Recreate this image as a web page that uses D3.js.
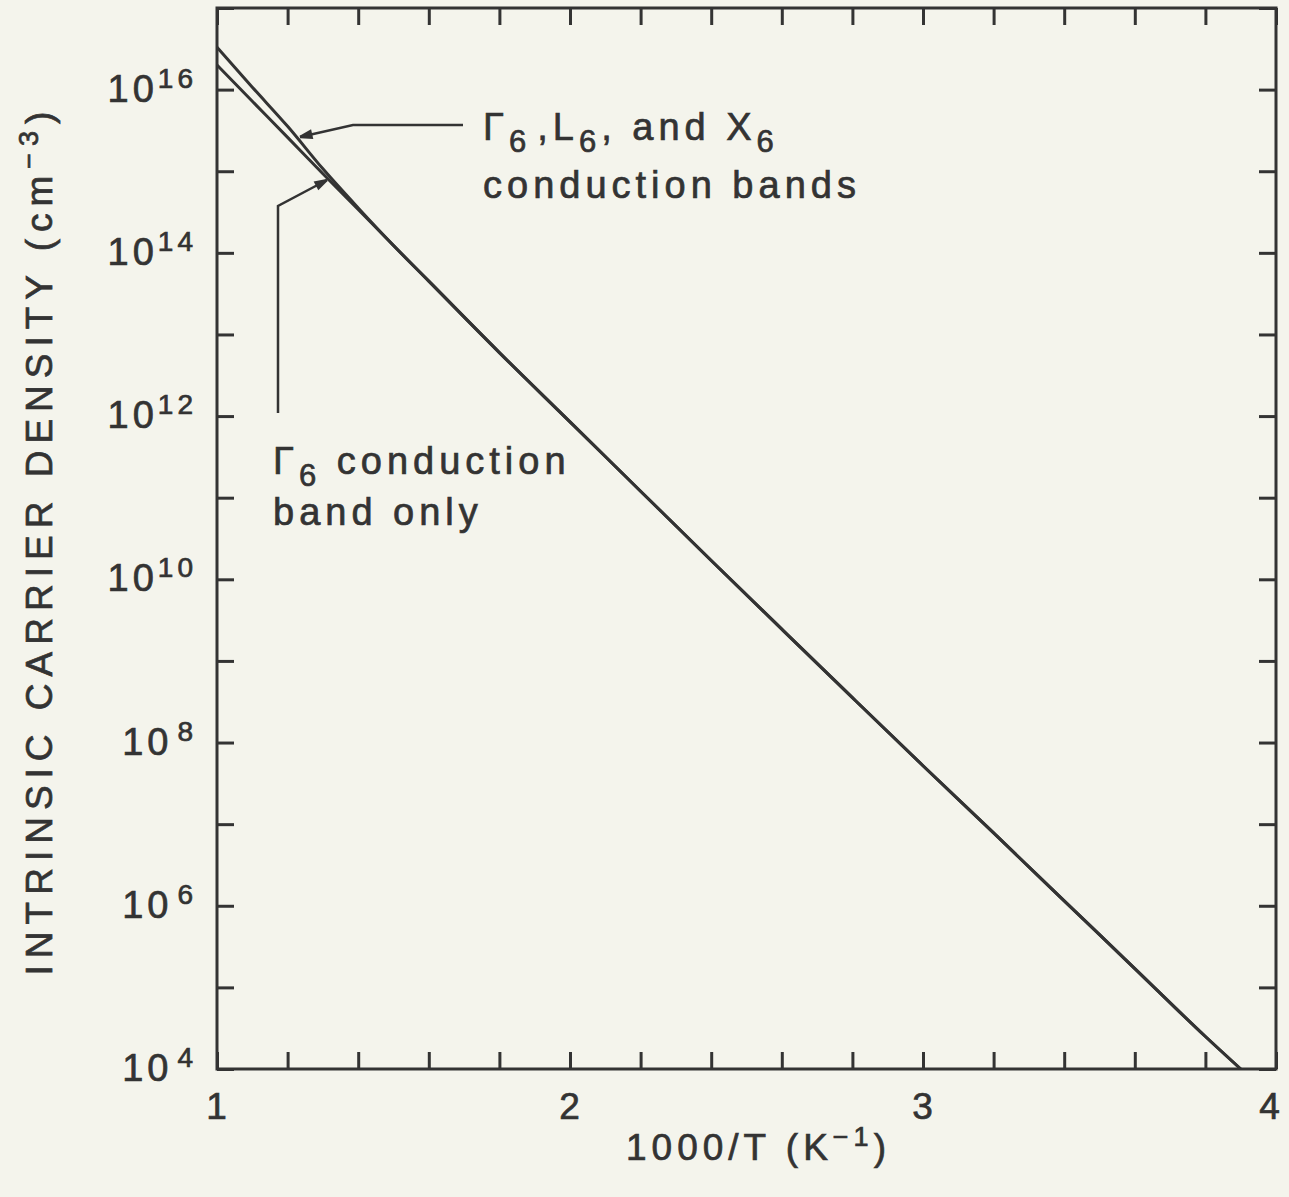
<!DOCTYPE html>
<meta charset="utf-8">
<script src="https://d3js.org/d3.v7.min.js"></script>
<style>
  body { margin: 0; background: #f4f4ec; }
  svg text { font-family: "Liberation Sans", Arial, sans-serif; fill: #333; stroke: #333; stroke-width: 0.7px; letter-spacing: 5px; }
  svg text.ylab { letter-spacing: 4px; }
  svg text.ytitle { letter-spacing: 7px; }
  svg .xaxis text { letter-spacing: 2px; }
</style>
<body>
<div id="canvas"></div>
<script>
  // 1000/T (K^-1)
  var invT = [1.0, 1.1, 1.2, 1.3, 1.4, 1.5, 1.6, 1.8, 2.0, 2.2, 2.4, 2.6, 2.8, 3.0, 3.2, 3.4, 3.6, 3.8, 3.9];
  // intrinsic carrier density (cm^-3), Gamma6 band only
  var gammaOnly = [2.0e16, 7.2e15, 2.6e15, 9.3e14, 3.4e14, 1.23e14, 4.5e13, 6.0e12, 8.5e11, 1.2e11, 1.7e10,
                   2.45e9, 3.55e8, 5.2e7, 7.8e6, 1.15e6, 1.7e5, 2.5e4, 1.0e4];
  // Gamma6, L6 and X6 bands
  var allBands = [3.3e16, 1.07e16, 3.55e15, 1.07e15, 3.55e14, 1.23e14, 4.5e13, 6.0e12, 8.5e11, 1.2e11, 1.7e10,
                  2.45e9, 3.55e8, 5.2e7, 7.8e6, 1.15e6, 1.7e5, 2.5e4, 1.0e4];
  var xTicks = [1, 1.2, 1.4, 1.6, 1.8, 2, 2.2, 2.4, 2.6, 2.8, 3, 3.2, 3.4, 3.6, 3.8, 4];
  var xLabels = [1, 2, 3, 4];
  var yTicks = [1e4, 1e5, 1e6, 1e7, 1e8, 1e9, 1e10, 1e11, 1e12, 1e13, 1e14, 1e15, 1e16, 1e17];
  var yLabelExp = [4, 6, 8, 10, 12, 14, 16];

  var width = 1289, height = 1197;
  var margin = {top: 8, right: 13, bottom: 128, left: 217};
  var w = width - margin.left - margin.right;
  var h = height - margin.top - margin.bottom;
  var ink = "#333";

  var svg = d3.select("#canvas").append("svg")
    .attr("width", width)
    .attr("height", height);

  var g = svg.append("g")
    .attr("transform", "translate(" + margin.left + "," + margin.top + ")");

  var x = d3.scaleLinear().domain([1, 4]).range([0, w]);
  var y = d3.scaleLog().domain([1e4, 1e17]).range([h, 0]);

  // ticks on all four sides, pointing inward
  function styleAxis(sel) {
    sel.select(".domain").remove();
    sel.selectAll(".tick line").attr("stroke", ink).attr("stroke-width", 3);
  }
  g.append("g").attr("class", "xaxis").attr("transform", "translate(0," + h + ")")
    .call(d3.axisBottom(x).tickValues(xTicks).tickSize(-17).tickPadding(24)
      .tickFormat(function(d) { return xLabels.indexOf(d) >= 0 ? d : ""; }))
    .call(styleAxis)
    .selectAll("text").style("font-size", "37px").attr("font-family", null).attr("fill", ink)
    .attr("dx", function(d) { return d === 4 ? -6 : 0; });
  g.append("g")
    .call(d3.axisTop(x).tickValues(xTicks).tickSize(-17).tickFormat(""))
    .call(styleAxis);
  g.append("g")
    .call(d3.axisLeft(y).tickValues(yTicks).tickSize(-17).tickFormat(""))
    .call(styleAxis);
  g.append("g").attr("transform", "translate(" + w + ",0)")
    .call(d3.axisRight(y).tickValues(yTicks).tickSize(-17).tickFormat(""))
    .call(styleAxis);

  // y tick labels 10^n
  var yl = g.selectAll(".ylab").data(yLabelExp).enter().append("text")
    .attr("class", "ylab")
    .attr("x", -20)
    .attr("y", function(d) { return y(Math.pow(10, d)) + 12; })
    .attr("text-anchor", "end")
    .style("font-size", "38px");
  yl.append("tspan").text("10");
  yl.append("tspan").attr("dy", -14).attr("dx", function(d) { return d < 10 ? 5 : 0; })
    .style("font-size", "28px").text(function(d) { return d; });

  // frame
  g.append("rect").attr("width", w).attr("height", h)
    .attr("fill", "none").attr("stroke", ink).attr("stroke-width", 3);

  // curves
  var line = d3.line()
    .x(function(d) { return x(d[0]); })
    .y(function(d) { return y(d[1]); })
    .curve(d3.curveMonotoneX);
  [gammaOnly, allBands].forEach(function(s) {
    g.append("path")
      .datum(invT.map(function(t, i) { return [t, s[i]]; }))
      .attr("d", line)
      .attr("fill", "none")
      .attr("stroke", ink)
      .attr("stroke-width", 3);
  });

  // annotation arrows
  svg.append("defs").append("marker")
    .attr("id", "arr").attr("viewBox", "0 0 10 10")
    .attr("refX", 10).attr("refY", 5)
    .attr("markerWidth", 8).attr("markerHeight", 5)
    .attr("markerUnits", "strokeWidth")
    .attr("orient", "auto")
    .append("path").attr("d", "M0,1L10,4L10,6L0,9z").attr("fill", ink);

  svg.append("polyline")
    .attr("points", "463,125 353,125 300,137")
    .attr("fill", "none").attr("stroke", ink).attr("stroke-width", 2.5)
    .attr("marker-end", "url(#arr)");
  svg.append("polyline")
    .attr("points", "278,413 278,206 327,180")
    .attr("fill", "none").attr("stroke", ink).attr("stroke-width", 2.5)
    .attr("marker-end", "url(#arr)");

  // annotation text
  function sub(t, s) {
    t.append("tspan").attr("dy", 12).style("font-size", "31px").text(s);
    return t;
  }
  var t1 = svg.append("text").attr("x", 483).attr("y", 140).style("font-size", "38px");
  t1.append("tspan").text("\u0393");
  sub(t1, "6");
  t1.append("tspan").attr("dy", -12).attr("dx", 6).text(",L");
  sub(t1, "6");
  t1.append("tspan").attr("dy", -12).text(", and X");
  sub(t1, "6");
  svg.append("text").attr("x", 483).attr("y", 198).style("font-size", "38px").text("conduction bands");

  var t2 = svg.append("text").attr("x", 273).attr("y", 474).style("font-size", "38px");
  t2.append("tspan").text("\u0393");
  sub(t2, "6");
  t2.append("tspan").attr("dy", -12).text(" conduction");
  svg.append("text").attr("x", 273).attr("y", 525).style("font-size", "38px").text("band only");

  // axis titles
  var xt = svg.append("text")
    .attr("x", margin.left + x(2.5) + 12).attr("y", 1160)
    .attr("text-anchor", "middle").style("font-size", "37px");
  xt.append("tspan").text("1000/T (K");
  xt.append("tspan").attr("dy", -14).style("font-size", "27px").text("\u22121");
  xt.append("tspan").attr("dy", 14).text(")");

  var yt = svg.append("text")
    .attr("class", "ytitle")
    .attr("transform", "translate(52," + 540 + ") rotate(-90)")
    .attr("text-anchor", "middle").style("font-size", "37px");
  yt.append("tspan").text("INTRINSIC CARRIER DENSITY (cm");
  yt.append("tspan").attr("dy", -14).style("font-size", "27px").text("\u22123");
  yt.append("tspan").attr("dy", 14).text(")");
</script>
</body>
